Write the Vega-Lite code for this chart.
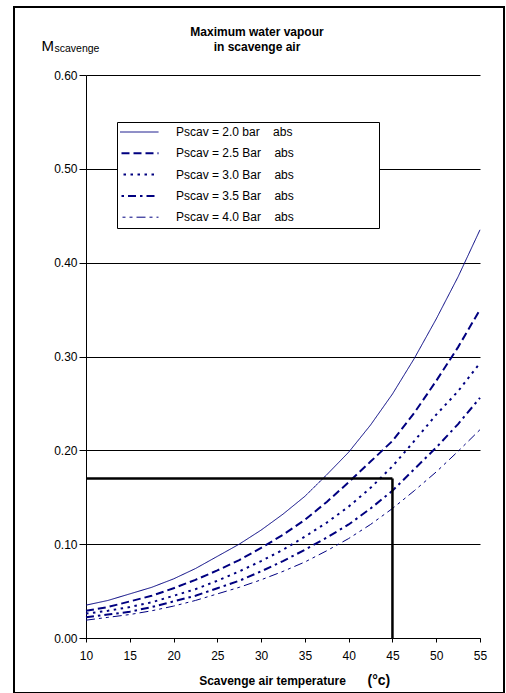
{
  "$schema": "https://vega.github.io/schema/vega-lite/v6.json",
  "width": 490,
  "height": 686,
  "autosize": {"type": "none"},
  "padding": {"left": 14, "top": 7, "right": 2, "bottom": 0},
  "background": "white",
  "config": {
    "font": "Liberation Sans",
    "view": {"stroke": "black", "strokeWidth": 2},
    "axis": {"labelColor": "black", "titleColor": "black", "domainColor": "black", "tickColor": "black", "labelFont": "Liberation Sans", "titleFont": "Liberation Sans"}
  },
  "title": {
    "text": ["Maximum water vapour", "in scavenge air"],
    "fontSize": 12,
    "fontWeight": "bold",
    "color": "black",
    "anchor": "middle",
    "frame": "group",
    "offset": -56,
    "baseline": "alphabetic",
    "lineHeight": 15,
    "dx": -2
  },
  "datasets": {
    "curves": [
      {"t": 10, "m": 0.035, "p": "Pscav = 2.0 bar abs"},
      {"t": 12.5, "m": 0.040, "p": "Pscav = 2.0 bar abs"},
      {"t": 15, "m": 0.047, "p": "Pscav = 2.0 bar abs"},
      {"t": 17.5, "m": 0.054, "p": "Pscav = 2.0 bar abs"},
      {"t": 20, "m": 0.063, "p": "Pscav = 2.0 bar abs"},
      {"t": 22.5, "m": 0.074, "p": "Pscav = 2.0 bar abs"},
      {"t": 25, "m": 0.087, "p": "Pscav = 2.0 bar abs"},
      {"t": 27.5, "m": 0.100, "p": "Pscav = 2.0 bar abs"},
      {"t": 30, "m": 0.115, "p": "Pscav = 2.0 bar abs"},
      {"t": 32.5, "m": 0.132, "p": "Pscav = 2.0 bar abs"},
      {"t": 35, "m": 0.151, "p": "Pscav = 2.0 bar abs"},
      {"t": 37.5, "m": 0.174, "p": "Pscav = 2.0 bar abs"},
      {"t": 40, "m": 0.198, "p": "Pscav = 2.0 bar abs"},
      {"t": 42.5, "m": 0.227, "p": "Pscav = 2.0 bar abs"},
      {"t": 45, "m": 0.260, "p": "Pscav = 2.0 bar abs"},
      {"t": 47.5, "m": 0.298, "p": "Pscav = 2.0 bar abs"},
      {"t": 50, "m": 0.340, "p": "Pscav = 2.0 bar abs"},
      {"t": 52.5, "m": 0.385, "p": "Pscav = 2.0 bar abs"},
      {"t": 55, "m": 0.435, "p": "Pscav = 2.0 bar abs"},
      {"t": 10, "m": 0.029, "p": "Pscav = 2.5 Bar abs"},
      {"t": 12.5, "m": 0.033, "p": "Pscav = 2.5 Bar abs"},
      {"t": 15, "m": 0.039, "p": "Pscav = 2.5 Bar abs"},
      {"t": 17.5, "m": 0.045, "p": "Pscav = 2.5 Bar abs"},
      {"t": 20, "m": 0.053, "p": "Pscav = 2.5 Bar abs"},
      {"t": 22.5, "m": 0.062, "p": "Pscav = 2.5 Bar abs"},
      {"t": 25, "m": 0.072, "p": "Pscav = 2.5 Bar abs"},
      {"t": 27.5, "m": 0.083, "p": "Pscav = 2.5 Bar abs"},
      {"t": 30, "m": 0.096, "p": "Pscav = 2.5 Bar abs"},
      {"t": 32.5, "m": 0.110, "p": "Pscav = 2.5 Bar abs"},
      {"t": 35, "m": 0.126, "p": "Pscav = 2.5 Bar abs"},
      {"t": 37.5, "m": 0.145, "p": "Pscav = 2.5 Bar abs"},
      {"t": 40, "m": 0.166, "p": "Pscav = 2.5 Bar abs"},
      {"t": 42.5, "m": 0.188, "p": "Pscav = 2.5 Bar abs"},
      {"t": 45, "m": 0.210, "p": "Pscav = 2.5 Bar abs"},
      {"t": 47.5, "m": 0.240, "p": "Pscav = 2.5 Bar abs"},
      {"t": 50, "m": 0.274, "p": "Pscav = 2.5 Bar abs"},
      {"t": 52.5, "m": 0.310, "p": "Pscav = 2.5 Bar abs"},
      {"t": 55, "m": 0.350, "p": "Pscav = 2.5 Bar abs"},
      {"t": 10, "m": 0.026, "p": "Pscav = 3.0 Bar abs"},
      {"t": 12.5, "m": 0.029, "p": "Pscav = 3.0 Bar abs"},
      {"t": 15, "m": 0.033, "p": "Pscav = 3.0 Bar abs"},
      {"t": 17.5, "m": 0.038, "p": "Pscav = 3.0 Bar abs"},
      {"t": 20, "m": 0.045, "p": "Pscav = 3.0 Bar abs"},
      {"t": 22.5, "m": 0.052, "p": "Pscav = 3.0 Bar abs"},
      {"t": 25, "m": 0.061, "p": "Pscav = 3.0 Bar abs"},
      {"t": 27.5, "m": 0.071, "p": "Pscav = 3.0 Bar abs"},
      {"t": 30, "m": 0.082, "p": "Pscav = 3.0 Bar abs"},
      {"t": 32.5, "m": 0.094, "p": "Pscav = 3.0 Bar abs"},
      {"t": 35, "m": 0.108, "p": "Pscav = 3.0 Bar abs"},
      {"t": 37.5, "m": 0.123, "p": "Pscav = 3.0 Bar abs"},
      {"t": 40, "m": 0.140, "p": "Pscav = 3.0 Bar abs"},
      {"t": 42.5, "m": 0.160, "p": "Pscav = 3.0 Bar abs"},
      {"t": 45, "m": 0.183, "p": "Pscav = 3.0 Bar abs"},
      {"t": 47.5, "m": 0.210, "p": "Pscav = 3.0 Bar abs"},
      {"t": 50, "m": 0.238, "p": "Pscav = 3.0 Bar abs"},
      {"t": 52.5, "m": 0.263, "p": "Pscav = 3.0 Bar abs"},
      {"t": 55, "m": 0.293, "p": "Pscav = 3.0 Bar abs"},
      {"t": 10, "m": 0.022, "p": "Pscav = 3.5 Bar abs"},
      {"t": 12.5, "m": 0.025, "p": "Pscav = 3.5 Bar abs"},
      {"t": 15, "m": 0.028, "p": "Pscav = 3.5 Bar abs"},
      {"t": 17.5, "m": 0.033, "p": "Pscav = 3.5 Bar abs"},
      {"t": 20, "m": 0.039, "p": "Pscav = 3.5 Bar abs"},
      {"t": 22.5, "m": 0.045, "p": "Pscav = 3.5 Bar abs"},
      {"t": 25, "m": 0.053, "p": "Pscav = 3.5 Bar abs"},
      {"t": 27.5, "m": 0.061, "p": "Pscav = 3.5 Bar abs"},
      {"t": 30, "m": 0.071, "p": "Pscav = 3.5 Bar abs"},
      {"t": 32.5, "m": 0.082, "p": "Pscav = 3.5 Bar abs"},
      {"t": 35, "m": 0.094, "p": "Pscav = 3.5 Bar abs"},
      {"t": 37.5, "m": 0.107, "p": "Pscav = 3.5 Bar abs"},
      {"t": 40, "m": 0.121, "p": "Pscav = 3.5 Bar abs"},
      {"t": 42.5, "m": 0.138, "p": "Pscav = 3.5 Bar abs"},
      {"t": 45, "m": 0.157, "p": "Pscav = 3.5 Bar abs"},
      {"t": 47.5, "m": 0.180, "p": "Pscav = 3.5 Bar abs"},
      {"t": 50, "m": 0.203, "p": "Pscav = 3.5 Bar abs"},
      {"t": 52.5, "m": 0.228, "p": "Pscav = 3.5 Bar abs"},
      {"t": 55, "m": 0.256, "p": "Pscav = 3.5 Bar abs"},
      {"t": 10, "m": 0.019, "p": "Pscav = 4.0 Bar abs"},
      {"t": 12.5, "m": 0.022, "p": "Pscav = 4.0 Bar abs"},
      {"t": 15, "m": 0.025, "p": "Pscav = 4.0 Bar abs"},
      {"t": 17.5, "m": 0.029, "p": "Pscav = 4.0 Bar abs"},
      {"t": 20, "m": 0.034, "p": "Pscav = 4.0 Bar abs"},
      {"t": 22.5, "m": 0.040, "p": "Pscav = 4.0 Bar abs"},
      {"t": 25, "m": 0.047, "p": "Pscav = 4.0 Bar abs"},
      {"t": 27.5, "m": 0.054, "p": "Pscav = 4.0 Bar abs"},
      {"t": 30, "m": 0.062, "p": "Pscav = 4.0 Bar abs"},
      {"t": 32.5, "m": 0.071, "p": "Pscav = 4.0 Bar abs"},
      {"t": 35, "m": 0.081, "p": "Pscav = 4.0 Bar abs"},
      {"t": 37.5, "m": 0.093, "p": "Pscav = 4.0 Bar abs"},
      {"t": 40, "m": 0.106, "p": "Pscav = 4.0 Bar abs"},
      {"t": 42.5, "m": 0.121, "p": "Pscav = 4.0 Bar abs"},
      {"t": 45, "m": 0.138, "p": "Pscav = 4.0 Bar abs"},
      {"t": 47.5, "m": 0.157, "p": "Pscav = 4.0 Bar abs"},
      {"t": 50, "m": 0.177, "p": "Pscav = 4.0 Bar abs"},
      {"t": 52.5, "m": 0.199, "p": "Pscav = 4.0 Bar abs"},
      {"t": 55, "m": 0.222, "p": "Pscav = 4.0 Bar abs"}
    ],
    "guide": [
      {"x": 10, "x2": 45, "y": 0.17, "y2": 0.17},
      {"x": 45, "x2": 45, "y": 0, "y2": 0.17}
    ]
  },
  "layer": [
    {
      "data": {"name": "curves"},
      "mark": {"type": "line", "color": "#000080", "interpolate": "linear"},
      "encoding": {
        "x": {
          "field": "t", "type": "quantitative",
          "scale": {"domain": [10, 55], "range": [72, 466], "nice": false, "zero": false},
          "axis": {
            "orient": "bottom", "offset": -55, "values": [10, 15, 20, 25, 30, 35, 40, 45, 50, 55],
            "grid": false, "tickSize": 4, "labelPadding": 8, "labelFontSize": 12, "labelFlush": false,
            "domainWidth": 1, "tickWidth": 1,
            "title": "Scavenge air temperature", "titleFontSize": 12, "titleFontWeight": "bold",
            "titleX": 258, "titleY": 46, "titleAlign": "center", "titleBaseline": "alphabetic", "titleAnchor": null
          }
        },
        "y": {
          "field": "m", "type": "quantitative",
          "scale": {"domain": [0, 0.6], "range": [631, 68], "nice": false, "zero": false},
          "axis": {
            "orient": "left", "offset": -72, "values": [0, 0.1, 0.2, 0.3, 0.4, 0.5, 0.6], "format": ".2f",
            "grid": true, "gridColor": "black", "gridWidth": 1, "gridOpacity": 1,
            "tickSize": 7, "labelPadding": 2, "labelFontSize": 12,
            "title": "M", "titleAngle": 0, "titleX": -45, "titleY": 43, "titleAlign": "left",
            "titleBaseline": "alphabetic", "titleFontSize": 15, "titleFontWeight": "normal"
          }
        },
        "strokeDash": {
          "field": "p", "type": "nominal",
          "scale": {
            "domain": ["Pscav = 2.0 bar abs", "Pscav = 2.5 Bar abs", "Pscav = 3.0 Bar abs", "Pscav = 3.5 Bar abs", "Pscav = 4.0 Bar abs"],
            "range": [[1, 0], [8, 4], [2.5, 4.5], [8, 4, 2.5, 4], [9, 4, 3, 4, 3, 4]]
          },
          "legend": {
            "orient": "none", "legendX": 103, "legendY": 115,
            "fillColor": "white", "strokeColor": "black", "padding": 3,
            "symbolType": "stroke", "symbolSize": 2401, "symbolStrokeColor": "#000080",
            "symbolOffset": 8, "labelOffset": 36, "clipHeight": 14, "rowPadding": 7.3,
            "labelFontSize": 12, "labelColor": "black", "labelLimit": 400,
            "labelExpr": "replace(datum.label, ' abs', '\u00a0\u00a0\u00a0\u00a0abs')",
            "title": "\u00a0", "titleOrient": "right", "titlePadding": 82,
            "encode": {"symbols": {"update": {"strokeWidth": {"signal": "(datum.value == 'Pscav = 2.0 bar abs' || datum.value == 'Pscav = 4.0 Bar abs') ? 1 : 2"}}}}
          }
        },
        "strokeWidth": {
          "condition": {"test": "datum.p == 'Pscav = 2.0 bar abs' || datum.p == 'Pscav = 4.0 Bar abs'", "value": 1},
          "value": 2
        }
      }
    },
    {
      "data": {"name": "guide"},
      "mark": {"type": "rule", "color": "black", "strokeWidth": 2.5},
      "encoding": {
        "x": {
          "field": "x", "type": "quantitative",
          "scale": {"domain": [10, 55], "range": [72, 466], "nice": false, "zero": false},
          "axis": {
            "orient": "top", "offset": 0, "domain": false, "ticks": false, "labels": false, "grid": false,
            "title": "scavenge", "titleX": 40, "titleY": 44, "titleAlign": "left", "titleBaseline": "alphabetic",
            "titleFontSize": 10.5, "titleFontWeight": "normal", "titleAngle": 0
          }
        },
        "x2": {"field": "x2"},
        "y": {
          "field": "y", "type": "quantitative",
          "scale": {"domain": [0, 0.6], "range": [631, 68], "nice": false, "zero": false},
          "axis": {
            "orient": "right", "offset": 0, "domain": false, "ticks": false, "labels": false, "grid": false,
            "title": "(°c)", "titleX": -137, "titleY": 677, "titleAlign": "left", "titleBaseline": "alphabetic",
            "titleFontSize": 14, "titleFontWeight": "bold", "titleAngle": 0
          }
        },
        "y2": {"field": "y2"}
      }
    }
  ],
  "resolve": {"axis": {"x": "independent", "y": "independent"}}
}
